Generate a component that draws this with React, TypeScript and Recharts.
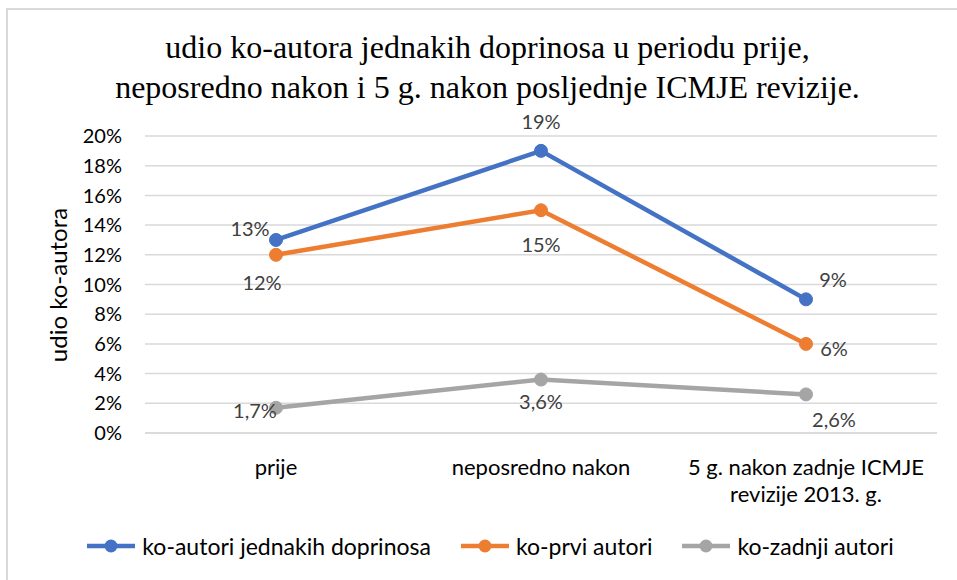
import { LineChart, Line, XAxis, YAxis, CartesianGrid } from 'recharts';

// categories and values (percent)
const categories = ['prije', 'neposredno nakon', '5 g. nakon zadnje ICMJE\nrevizije 2013. g.'];
const jednakih = [13, 19, 9];
const prvi = [12, 15, 6];
const zadnji = [1.7, 3.6, 2.6];
const yTicks = [0, 2, 4, 6, 8, 10, 12, 14, 16, 18, 20];

const seriesNames = ['ko-autori jednakih doprinosa', 'ko-prvi autori', 'ko-zadnji autori'];
const seriesColors = ['#4472C4', '#ED7D31', '#A5A5A5'];

// label offsets from the point, per series and category
const labelOffsets = [
  [[-26, -12], [0, -30], [27, -20]],
  [[-14, 27], [0, 34], [28, 4]],
  [[-21, 2], [0, 21], [28, 25]],
];

const data = categories.map((c, i) => ({
  name: c,
  s0: jednakih[i],
  s1: prvi[i],
  s2: zadnji[i],
}));

const FONT = 'Lato, "Open Sans", sans-serif';

const makeLabel = (seriesIdx: number) => (props: any) => {
  const { x, y, value, index } = props;
  const [dx, dy] = labelOffsets[seriesIdx][index];
  return (
    <text
      x={x + dx}
      y={y + dy}
      textAnchor="middle"
      dominantBaseline="central"
      fill="#404040"
      fontSize={20}
      fontFamily={FONT}
    >
      {String(value).replace('.', ',') + '%'}
    </text>
  );
};

const XTick = (props: any) => {
  const { x, y, payload } = props;
  const lines = String(payload.value).split('\n');
  return (
    <g>
      {lines.map((l, i) => (
        <text
          key={i}
          x={x}
          y={y + 40 + i * 27}
          textAnchor="middle"
          fill="#000"
          fontSize={22}
          fontFamily={FONT}
        >
          {l}
        </text>
      ))}
    </g>
  );
};

export default function App() {
  const seriesKeys = ['s0', 's1', 's2'];
  return (
    <div style={{ position: 'absolute', left: 0, top: 0, width: 957, height: 580, overflow: 'hidden', background: '#fff' }}>
      <div
        style={{
          position: 'absolute', left: 6, top: 8, width: 1000, height: 1000,
          border: '2px solid #d9d9d9',
        }}
      />
      <div
        style={{
          position: 'absolute', left: 0, top: 27, width: 975, textAlign: 'center',
          fontFamily: '"Liberation Serif", "Times New Roman", serif', fontSize: 32, lineHeight: '40px', color: '#000',
        }}
      >
        udio ko-autora jednakih doprinosa u periodu prije,
        <br />
        neposredno nakon i 5 g. nakon posljednje ICMJE revizije.
      </div>
      <div
        style={{
          position: 'absolute', left: 57, top: 285, transform: 'translate(-50%, -50%) rotate(-90deg)',
          fontFamily: FONT, fontSize: 24, whiteSpace: 'nowrap', color: '#000',
        }}
      >
        udio ko-autora
      </div>
      <div style={{ position: 'absolute', left: 0, top: 0 }}>
        <LineChart width={957} height={580} data={data} margin={{ top: 136, right: 20, bottom: 87, left: 85 }}>
          <CartesianGrid vertical={false} stroke="#d9d9d9" strokeWidth={1.5} />
          <XAxis
            dataKey="name"
            tick={<XTick />}
            tickLine={false}
            axisLine={{ stroke: '#d9d9d9', strokeWidth: 1.5 }}
            tickSize={0}
            height={60}
            interval={0}
            padding={{ left: 131, right: 131 }}
          />
          <YAxis
            domain={[0, 20]}
            ticks={yTicks}
            tickFormatter={(v: number) => `${v}%`}
            axisLine={false}
            tickLine={false}
            tickSize={0}
            tickMargin={23}
            width={60}
            tick={{ fill: '#000', fontSize: 20, fontFamily: FONT }}
          />
          {seriesKeys.map((k, i) => (
            <Line
              key={k}
              dataKey={k}
              name={seriesNames[i]}
              stroke={seriesColors[i]}
              strokeWidth={4.5}
              dot={{ r: 6.5, fill: seriesColors[i], stroke: seriesColors[i], strokeWidth: 1 }}
              activeDot={false}
              isAnimationActive={false}
              label={makeLabel(i)}
            />
          ))}
        </LineChart>
      </div>
      <div
        style={{
          position: 'absolute', left: 0, top: 532, width: 981,
          display: 'flex', justifyContent: 'center', gap: 30, fontFamily: FONT, fontSize: 23,
        }}
      >
        {seriesNames.map((n, i) => (
          <div key={n} style={{ display: 'flex', alignItems: 'center' }}>
            <svg width={48} height={16} style={{ marginRight: 7 }}>
              <line x1={0} y1={8} x2={48} y2={8} stroke={seriesColors[i]} strokeWidth={4.5} />
              <circle cx={24} cy={8} r={6.5} fill={seriesColors[i]} />
            </svg>
            <span style={{ color: '#000' }}>{n}</span>
          </div>
        ))}
      </div>
    </div>
  );
}
